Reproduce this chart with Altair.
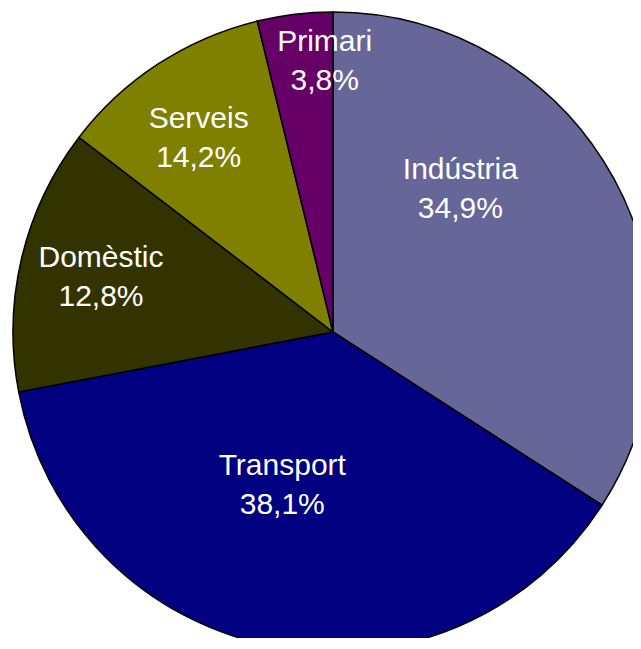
import math
import altair as alt
import pandas as pd

# Sectors in clockwise order from 12 o'clock
sectors = ["Indústria", "Transport", "Domèstic", "Serveis", "Primari"]
# Angular share of each slice as drawn in the picture (percent of the circle)
share_drawn = [34.1, 37.9, 13.4, 10.8, 3.8]
# Percent labels printed on the chart
label_pct = ["34,9%", "38,1%", "12,8%", "14,2%", "3,8%"]
colors = ["#666699", "#000080", "#333300", "#808000", "#660066"]

# Label placement (polar: angle in degrees clockwise from 12 o'clock, radius in px)
label_angle = [39.8, 199.5, 285.7, 326.6, 358.3]
label_radius = [199, 152, 241, 244, 281]

df = pd.DataFrame({
    "sector": sectors,
    "share": share_drawn,
    "idx": list(range(len(sectors))),
    "label": [f"{s}\n{p}" for s, p in zip(sectors, label_pct)],
    "lab_angle": label_angle,
    "lab_r": label_radius,
})

R = 320
CX, CY = 325, 324

base = alt.Chart(df)

arcs = base.mark_arc(
    outerRadius=R, stroke="black", strokeWidth=1.5
).encode(
    theta=alt.Theta("share:Q", stack=True),
    order=alt.Order("idx:Q"),
    color=alt.Color("sector:N", scale=alt.Scale(domain=sectors, range=colors), legend=None),
    x=alt.value(CX),
    y=alt.value(CY),
)

labels = base.mark_text(
    font="Liberation Sans", fontSize=30, color="white",
    align="center", baseline="alphabetic", lineBreak="\n", lineHeight=39,
).encode(
    theta=alt.Theta("lab_angle:Q", stack=None,
                    scale=alt.Scale(domain=[0, 360], range=[0, 2 * math.pi])),
    radius=alt.Radius("lab_r:Q",
                      scale=alt.Scale(type="linear", domain=[0, R], range=[0, R], zero=True)),
    text="label:N",
    x=alt.value(CX),
    y=alt.value(CY),
)

chart = alt.layer(arcs, labels).resolve_scale(
    theta="independent", radius="independent"
).properties(
    width=625, height=630, padding=0, autosize="none", background="white"
).configure_view(stroke=None)

chart.save("out.html", embed_options={"renderer": "svg", "actions": False})
